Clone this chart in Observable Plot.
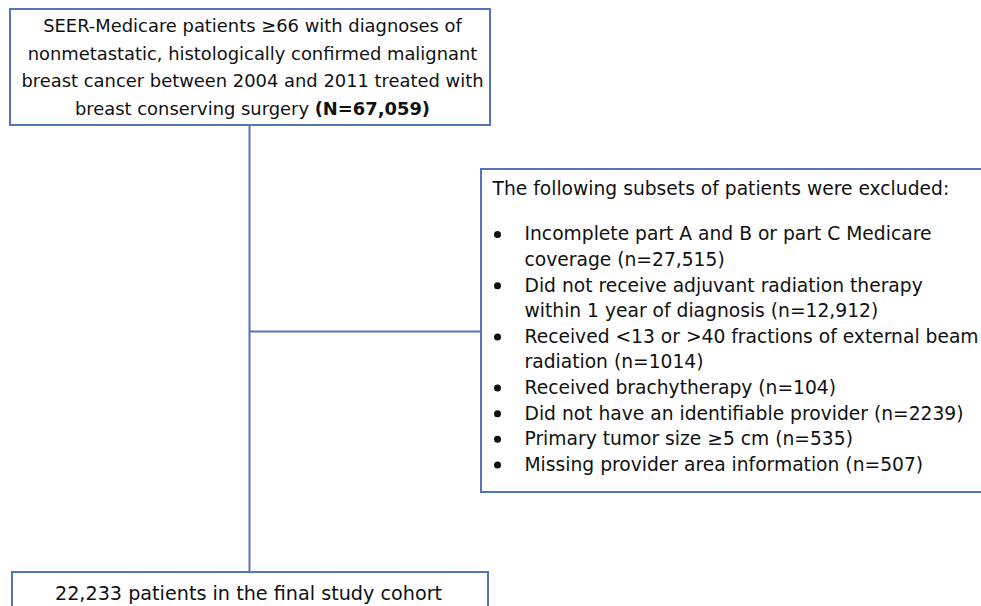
<!DOCTYPE html>
<html>
<head>
<meta charset="utf-8">
<script src="https://cdn.jsdelivr.net/npm/d3@7"></script>
<script src="https://cdn.jsdelivr.net/npm/@observablehq/plot@0.6"></script>
<style>
  html, body { margin: 0; padding: 0; background: #fff; }
  #chart svg { display: block; }
</style>
</head>
<body>
<div id="chart"></div>
<script>
// ---- data ----
const topLines = [
  "SEER-Medicare patients \u226566 with diagnoses of",
  "nonmetastatic, histologically confirmed malignant",
  "breast cancer between 2004 and 2011 treated with",
  "breast conserving surgery (N=67,059)"
];
const exclusionHeader = "The following subsets of patients were excluded:";
const exclusionItems = [
  ["Incomplete part A and B or part C Medicare", "coverage (n=27,515)"],
  ["Did not receive adjuvant radiation therapy", "within 1 year of diagnosis (n=12,912)"],
  ["Received <13 or >40 fractions of external beam", "radiation (n=1014)"],
  ["Received brachytherapy (n=104)"],
  ["Did not have an identifiable provider (n=2239)"],
  ["Primary tumor size \u22655 cm (n=535)"],
  ["Missing provider area information (n=507)"]
];
const finalLines = ["22,233 patients in the final study cohort"];

// ---- layout ----
const W = 981, H = 606;
const boxColor = "#5475bb";
const font = "'DejaVu Sans', sans-serif";

const boxes = [
  {x1: 10, x2: 490, y1: 9, y2: 125},
  {x1: 481, x2: 1000, y1: 169, y2: 492},
  {x1: 12, x2: 488, y1: 572, y2: 630}
];
const connectors = [
  {x1: 249, y1: 125, x2: 249, y2: 572},
  {x1: 249, y1: 331, x2: 481, y2: 331}
];

const topText = topLines.map((t, i) => ({x: 252, y: 26 + i * 27.5, t}));
const rightText = [{x: 492, y: 189, t: exclusionHeader}];
const bullets = [];
let yy = 234;
const lineH = 25.6;
exclusionItems.forEach(item => {
  bullets.push({x: 497, y: yy});
  item.forEach(line => { rightText.push({x: 524, y: yy, t: line}); yy += lineH; });
});
const bottomText = finalLines.map(t => ({x: 248, y: 593, t}));

const plot = Plot.plot({
  width: W, height: H,
  margin: 0,
  x: {domain: [0, W], range: [0, W], axis: null},
  y: {domain: [0, H], range: [0, H], axis: null},
  style: {fontFamily: font, background: "#fff"},
  marks: [
    Plot.link(connectors, {x1: "x1", y1: "y1", x2: "x2", y2: "y2", stroke: boxColor, strokeWidth: 2}),
    Plot.rect(boxes, {x1: "x1", x2: "x2", y1: "y1", y2: "y2", fill: "white", stroke: boxColor, strokeWidth: 2}),
    Plot.text(topText, {x: "x", y: "y", text: "t", textAnchor: "middle", fontSize: 17.9, fill: "#111"}),
    Plot.text(rightText, {x: "x", y: "y", text: "t", textAnchor: "start", fontSize: 18.7, fill: "#111"}),
    Plot.dot(bullets, {x: "x", y: "y", r: 3.5, fill: "#111"}),
    Plot.text(bottomText, {x: "x", y: "y", text: "t", textAnchor: "middle", fontSize: 19.2, fill: "#111"})
  ]
});

// bold the total count
d3.select(plot).selectAll("text").each(function() {
  const el = this;
  const s = el.textContent;
  const key = "(N=67,059)";
  if (s.includes(key) && el.children.length === 0) {
    const pre = s.replace(key, "");
    el.textContent = "";
    d3.select(el).append("tspan").text(pre);
    d3.select(el).append("tspan").attr("font-weight", "bold").text(key);
  }
});

document.getElementById("chart").appendChild(plot);
</script>
</body>
</html>
